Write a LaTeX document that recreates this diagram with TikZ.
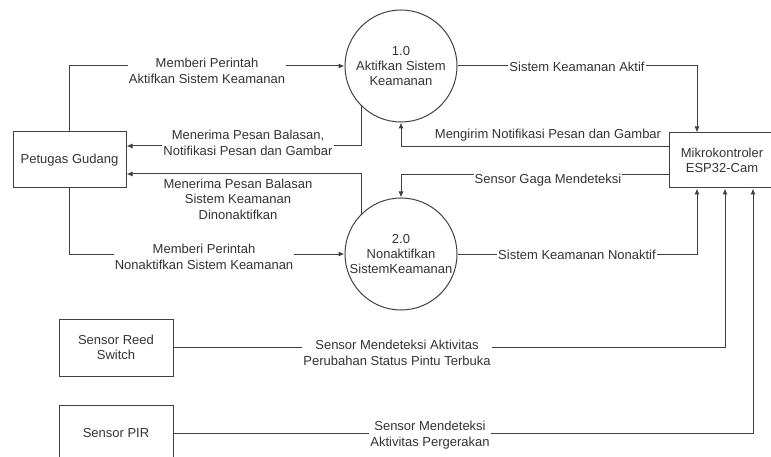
\documentclass[tikz,border=0pt]{standalone}
\usepackage{fontspec}
\setmainfont{Liberation Sans}
\usetikzlibrary{arrows.meta}
\usetikzlibrary{positioning}

\tikzset{
entity/.style={rectangle,draw=black!75,line width=1pt,inner sep=2pt,align=center,text=black!80,font=\fontsize{13}{15.5}\selectfont},
process/.style={circle,draw=black!75,line width=1pt,minimum size=112pt,inner sep=0pt,align=center,text=black!80,font=\fontsize{13}{15}\selectfont},
flow/.style={draw=black!75,line width=1pt,-{Latex[length=6pt,width=5pt]}},
flowlabel/.style={fill=white,inner sep=1pt,align=center,text=black!80,font=\fontsize{13}{15.5}\selectfont}
}

\begin{document}
\begin{tikzpicture}[x=1pt,y=-1pt]
\useasboundingbox (0,0) rectangle (771,457);

\node[entity,minimum width=113pt,minimum height=56pt] (petugas) at (69.5,160) {Petugas Gudang};
\node[process] (proc1) at (401,66) {1.0\\Aktifkan Sistem\\Keamanan};
\node[process,below=75pt of proc1] (proc2) {2.0\\Nonaktifkan\\SistemKeamanan};
\node[entity,minimum width=106pt,minimum height=55pt] (mikro) at (722,160.5) {Mikrokontroler\\ESP32-Cam};
\node[entity,minimum width=114pt,minimum height=57pt] (reed) at (116,347.5) {Sensor Reed\\Switch};
\node[entity,minimum width=114pt,minimum height=56pt,below=28pt of reed] (pir) {Sensor PIR};

\draw[flow] (petugas.north) |- (proc1.west);
\draw[flow] (proc1.south west) |- ([yshift=14pt]petugas.east);
\draw[flow] (proc2.north west) |- ([yshift=-14pt]petugas.east);
\draw[flow] (petugas.south) |- (proc2.west);
\draw[flow] (proc1.east) -| ([xshift=-25pt]mikro.north);
\draw[flow] ([yshift=14pt]mikro.west) -| (proc1.south);
\draw[flow] ([yshift=-14pt]mikro.west) -| (proc2.north);
\draw[flow] (proc2.east) -| ([xshift=-25pt]mikro.south);
\draw[flow] (reed.east) -| ([xshift=3pt]mikro.south);
\draw[flow] (pir.east) -| ([xshift=31pt]mikro.south);

\node[flowlabel] (perintahAktif) at (207,71) {Memberi Perintah\\Aktifkan Sistem Keamanan};
\node[flowlabel] (balasanAktif) at (248,143) {Menerima Pesan Balasan,\\Notifikasi Pesan dan Gambar};
\node[flowlabel] (balasanNonaktif) at (238,199) {Menerima Pesan Balasan\\Sistem Keamanan\\Dinonaktifkan};
\node[flowlabel] (perintahNonaktif) at (204,257) {Memberi Perintah\\Nonaktifkan Sistem Keamanan};
\node[flowlabel] (statusAktif) at (577,67) {Sistem Keamanan Aktif};
\node[flowlabel] (kirimNotif) at (548,135) {Mengirim Notifikasi Pesan dan Gambar};
\node[flowlabel] (gagaDeteksi) at (548,180) {Sensor Gaga Mendeteksi};
\node[flowlabel] (statusNonaktif) at (577,255) {Sistem Keamanan Nonaktif};
\node[flowlabel] (deteksiPintu) at (397,353) {Sensor Mendeteksi Aktivitas\\Perubahan Status Pintu Terbuka};
\node[flowlabel] (deteksiGerak) at (430,435) {Sensor Mendeteksi\\Aktivitas Pergerakan};

\end{tikzpicture}
\end{document}
